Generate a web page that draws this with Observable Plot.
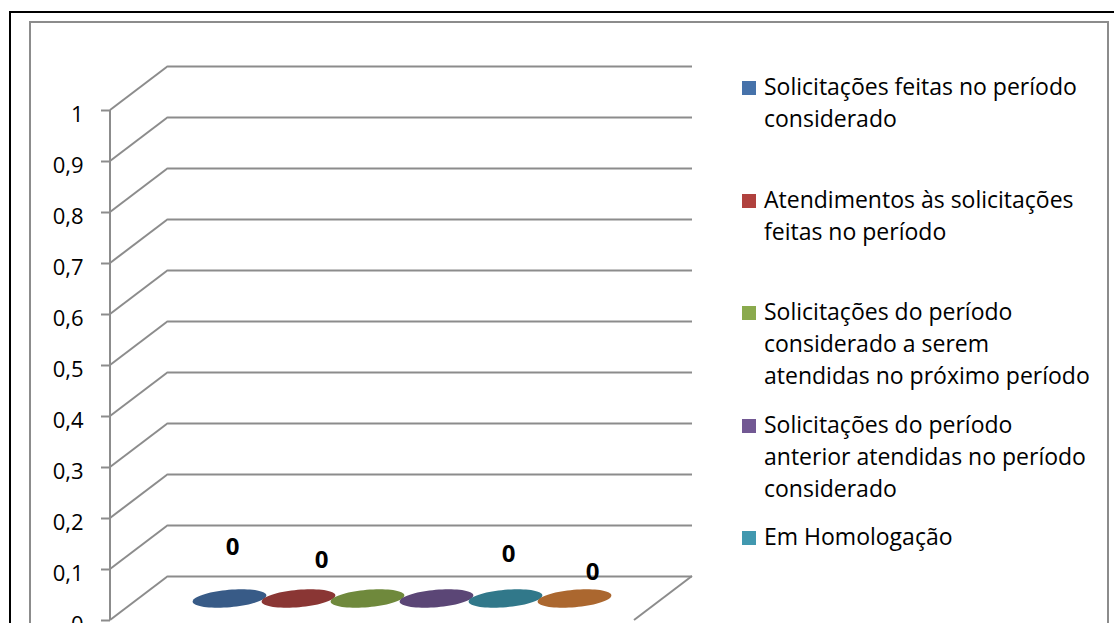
<!DOCTYPE html>
<html><head><meta charset="utf-8">
<script src="https://cdn.jsdelivr.net/npm/d3@7"></script>
<script src="https://cdn.jsdelivr.net/npm/@observablehq/plot@0.6"></script>
<style>
html,body{margin:0;padding:0;background:#fff;overflow:hidden;}
#wrap{position:relative;width:1114px;height:623px;font-family:"Open Sans",sans-serif;overflow:hidden;}
#outer{position:absolute;left:9px;top:11px;width:1200px;height:700px;border-left:2px solid #000;border-top:2px solid #000;}
#inner{position:absolute;left:29px;top:21px;width:1080px;height:700px;box-sizing:border-box;border:2px solid #8c8c8c;}
#chart{position:absolute;left:0;top:0;}
.leg{position:absolute;left:742px;width:370px;font-size:23px;line-height:32px;color:#000;}
.leg .sw{position:absolute;left:0;top:11px;width:14px;height:14px;}
.leg .tx{margin-left:22px;white-space:pre;}
</style></head>
<body>
<div id="wrap"><div id="outer"></div><div id="inner"></div><div id="chart"></div></div>
<script>
// ---- data ----
const series = [
  "Solicitações feitas no período considerado",
  "Atendimentos às solicitações feitas no período",
  "Solicitações do período considerado a serem atendidas no próximo período",
  "Solicitações do período anterior atendidas no período considerado",
  "Em Homologação",
  "Série 6"
];
const legendLines = [
  ["Solicitações feitas no período", "considerado"],
  ["Atendimentos às solicitações", "feitas no período"],
  ["Solicitações do período", "considerado a serem", "atendidas no próximo período"],
  ["Solicitações do período", "anterior atendidas no período", "considerado"],
  ["Em Homologação"]
];
const values = [0, 0, 0, 0, 0, 0];
const labelled = [true, true, false, false, true, true];
const yTicks = [0, 0.1, 0.2, 0.3, 0.4, 0.5, 0.6, 0.7, 0.8, 0.9, 1];

// ---- style ----
const ellipseColors = ["#385b87", "#8a3634", "#6f893c", "#5b4676", "#31788a", "#ab672f"];
const legendColors = ["#4672aa", "#b0413e", "#8aaa4d", "#725893", "#4198af", "#e68a3c"];
const labelOffsets = [[32, -73], [52, -60], [0, 0], [0, 0], [32, -66], [47, -48]];
const gridColor = "#8c8c8c";
const DX = 58, DY = -44;

const data = series.map((name, i) => ({name, value: values[i], i}));

const ellipse = {
  draw(ctx, size) {
    const rx = Math.sqrt(size / Math.PI), ry = rx * 0.235, a = -5 * Math.PI / 180, N = 72;
    for (let k = 0; k <= N; k++) {
      const t = 2 * Math.PI * k / N;
      const px = rx * Math.cos(t), py = ry * Math.sin(t);
      const X = px * Math.cos(a) - py * Math.sin(a), Y = px * Math.sin(a) + py * Math.cos(a);
      if (k) ctx.lineTo(X, Y); else ctx.moveTo(X, Y);
    }
    ctx.closePath();
  }
};

const fmt = d => String(d).replace(".", ",");

const depthLines = (index, scales, vals, dims) => {
  const g = d3.create("svg:g").attr("stroke", gridColor).attr("stroke-width", 2).attr("fill", "none");
  const x0 = dims.marginLeft, x1 = dims.width - dims.marginRight;
  for (const v of yTicks) {
    g.append("line").attr("x1", x0).attr("y1", scales.y(v)).attr("x2", x0 + DX).attr("y2", scales.y(v) + DY);
  }
  g.append("line").attr("x1", x0).attr("y1", scales.y(1)).attr("x2", x0).attr("y2", scales.y(0));
  g.append("line").attr("x1", x1).attr("y1", scales.y(0)).attr("x2", x1 + DX).attr("y2", scales.y(0) + DY);
  return g.node();
};

const labelMarks = data.filter(d => labelled[d.i]).map(d =>
  Plot.text([d], {x: "name", y: "value", text: d => fmt(d.value), dx: labelOffsets[d.i][0], dy: labelOffsets[d.i][1],
    fontWeight: "bold", fontSize: 24, fill: "#000"})
);

const chart = Plot.plot({
  width: 1114, height: 623,
  marginLeft: 110, marginRight: 480, marginTop: 110, marginBottom: 3,
  style: {fontFamily: "Open Sans, sans-serif", fontSize: "22px", background: "transparent", overflow: "visible"},
  x: {type: "point", domain: series, padding: 1.243, axis: null},
  y: {domain: [0, 1], axis: null},
  color: {domain: series, range: ellipseColors},
  marks: [
    Plot.ruleY(yTicks, {dx: DX, dy: DY, stroke: gridColor, strokeWidth: 2}),
    depthLines,
    Plot.axisY({ticks: yTicks, tickSize: 9, text: null, stroke: gridColor, strokeWidth: 2, label: null}),
    Plot.axisY({ticks: yTicks, tickSize: 0, tickPadding: 27, tickFormat: fmt, fill: "#000", dy: 4, label: null}),
    Plot.dot(data, {x: "name", y: "value", r: 37, symbol: ellipse, fill: "name", dx: 29, dy: -22}),
    ...labelMarks
  ]
});
document.getElementById("chart").appendChild(chart);

// legend (HTML, overlaid in the chart's right area)
const wrap = document.getElementById("wrap");
legendLines.forEach((lines, i) => {
  const e = document.createElement("div");
  e.className = "leg";
  e.style.top = (70 + i * 112.5) + "px";
  e.innerHTML = `<div class="sw" style="background:${legendColors[i]}"></div><div class="tx"></div>`;
  e.querySelector(".tx").textContent = lines.join("\n");
  wrap.appendChild(e);
});
</script>
</body></html>
